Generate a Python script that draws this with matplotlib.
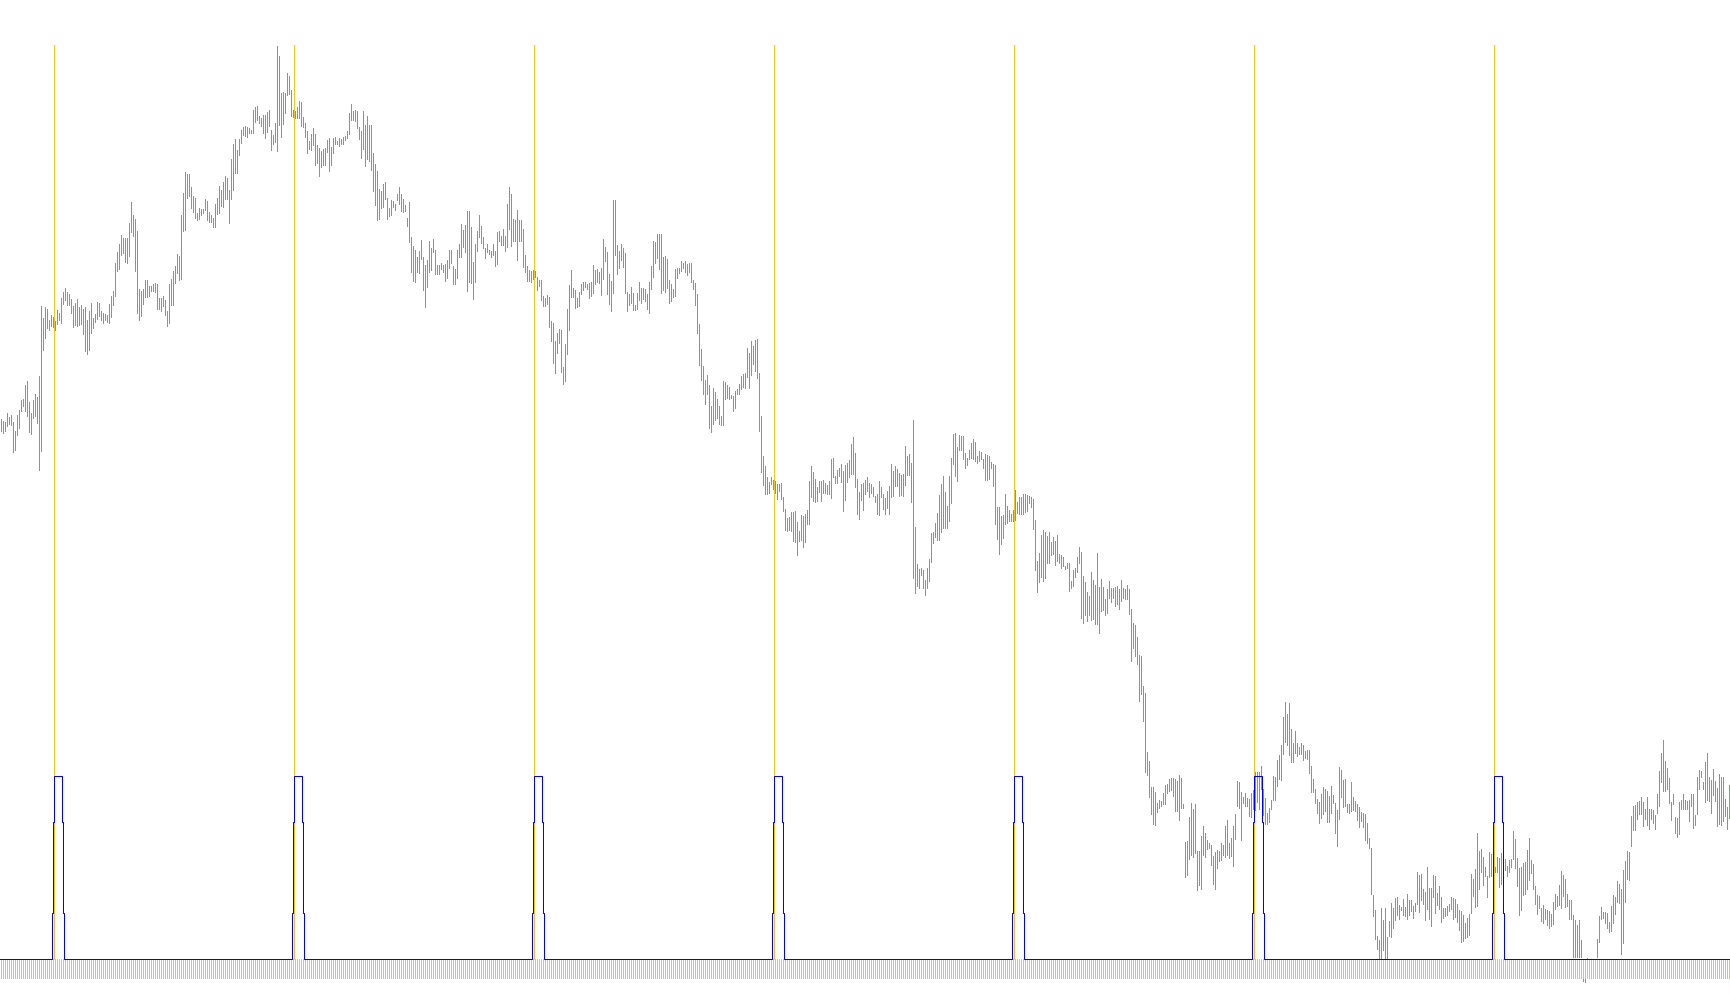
import numpy as np
import matplotlib
matplotlib.use("Agg")
import matplotlib.pyplot as plt

# price bars, one high / low per bar (price points)
highs = [
    581, 579, 578, 587, 583, 585, 578, 569, 585, 590,
    600, 601, 615, 619, 598, 587, 600, 606, 603, 624,
    694, 682, 693, 691, 680, 685, 683, 679, 690, 687,
    702, 708, 712, 708, 706, 701, 694, 697, 701, 693,
    695, 691, 693, 680, 689, 697, 682, 686, 698, 697,
    689, 687, 686, 685, 696, 704, 709, 737, 748, 756,
    765, 762, 762, 762, 777, 798, 785, 781, 769, 711,
    709, 711, 720, 720, 714, 714, 716, 717, 716, 702,
    702, 704, 700, 689, 716, 721, 729, 734, 746, 744,
    785, 807, 828, 826, 826, 813, 804, 802, 787, 792,
    791, 791, 801, 799, 788, 785, 782, 796, 802, 814,
    810, 818, 824, 822, 810, 841, 856, 861, 850, 861,
    870, 873, 874, 873, 872, 870, 890, 893, 894, 884,
    882, 885, 885, 888, 890, 870, 865, 877, 954, 944,
    907, 908, 907, 927, 924,
    910, 890, 889, 893, 899,
    898, 883, 877, 869, 859, 866, 872, 866, 855, 852,
    849, 851, 852, 860, 862, 853, 862, 863, 859, 862,
    861, 863, 864, 869, 887, 896, 889, 890, 889, 873,
    869, 889, 875, 884, 875, 875, 847, 836, 829, 811,
    809, 816, 818, 802, 792, 800, 799, 796, 806, 813,
    806, 801, 795, 782, 798, 763, 754, 750, 743, 749,
    760, 743, 735, 740, 759, 752, 761, 750, 735, 735,
    737, 735, 736, 740, 750, 750, 734, 731, 750, 756,
    776, 770, 775, 789, 789, 773, 738, 756, 769, 785,
    774, 763, 752, 756, 750, 749, 756, 749, 768, 769,
    764, 771, 764, 796, 813, 806, 781, 780, 790, 780,
    780, 771, 745, 734, 730, 729, 730, 729, 723, 720,
    720, 704, 702, 705, 703, 679, 677, 659, 667, 671,
    670, 633, 656, 691, 715, 730, 712, 710, 702, 708,
    716, 718, 718, 716, 717, 718, 735, 730, 731, 728,
    732, 761, 753, 748, 726, 719, 800, 800, 755, 749,
    756, 752, 747, 708, 706, 713, 707, 695, 707, 718,
    712, 712, 711, 706, 718, 734, 759, 758, 766, 766,
    766, 743, 744, 741, 720, 716, 711, 731, 732, 732,
    739, 737, 739, 736, 737, 737, 720, 717, 706, 676,
    651, 634, 620, 625, 615, 594, 612, 608, 601, 594,
    584, 619, 618, 615, 613, 605, 604, 609, 611, 616,
    624, 626, 627, 652, 647, 659, 654, 660, 661, 627,
    584, 544, 534, 523, 518, 523, 520, 519, 516, 516,
    517, 503, 491, 482, 483, 488, 488, 489, 478, 469,
    485, 484, 486, 490, 519, 534, 528, 521, 513, 519,
    519, 520, 517, 515, 519, 541, 542, 524, 530, 532,
    536, 529, 535, 537, 540, 556, 563, 547, 521, 508,
    516, 517, 520, 523, 517,
    516, 513, 504, 506, 519,
    513, 506, 502, 509, 514, 536, 529, 534, 531, 527,
    525, 526, 554, 544, 546, 537, 580, 473, 436, 431,
    432, 430, 420, 432, 441, 467, 468, 477, 487, 505,
    516, 524, 508, 494, 524, 542, 566, 567, 553, 565,
    564, 564, 547, 542, 550, 557, 561, 558, 544, 549,
    548, 541, 546, 545, 544, 538, 536, 535, 493, 493,
    484, 485, 506, 494, 490, 486, 490, 510, 498, 503,
    503, 506, 506, 505, 504, 503, 501, 480, 439, 447,
    465, 470, 468, 464, 468, 458, 463, 459, 465, 446,
    445, 443, 434, 437, 437, 419, 430, 432, 443, 453,
    448, 424, 418, 408, 404, 428, 420, 415, 447, 413,
    421, 413, 401, 411, 419, 412, 412, 413, 414, 411,
    420, 412, 411, 415, 411, 391, 377, 375, 363, 345,
    344, 314, 307, 248, 239, 213, 213, 208, 197, 200,
    199, 207, 215, 216, 221, 222, 222, 221, 219, 225,
    222, 196, 158, 159, 183, 197, 191, 196, 149, 149,
    164, 174, 167, 160, 157, 155, 144, 148, 150, 149,
    157, 155, 174, 180, 157, 162, 174, 186, 219, 218,
    208, 203, 207, 202, 201, 207, 210, 228, 228, 228,
    234, 211, 202, 187, 192, 200, 224, 223, 240, 245,
    255, 283, 298, 286, 297, 271, 257, 269, 257, 253,
    257, 255, 249, 250, 250, 234, 221, 211, 201, 198,
    206, 213, 211, 209, 204, 214, 205, 197, 190, 233,
    230, 220, 221, 196, 196, 218, 203, 199, 196, 193,
    188, 187, 186, 177, 162, 152, 105, 90, 64, 60,
    92, 80, 92, 63, 79, 97, 92, 102, 103, 95,
    93, 101, 93, 106, 100, 100, 94, 97, 128, 125,
    126, 111, 108, 133, 112, 112, 125, 124, 107, 114,
    103, 92, 92, 94, 96,
    103, 102, 101, 96, 90,
    89, 85, 77, 82, 86, 126, 121, 131, 167, 149,
    151, 143, 133, 124, 148, 146, 140, 133, 143, 142,
    147, 142, 141, 134, 140, 141, 169, 161, 142, 132,
    133, 137, 138, 150, 162, 140, 136, 114, 105, 104,
    92, 95, 91, 90, 89, 86, 98, 106, 104, 115,
    129, 125, 121, 106, 100, 100, 85, 80, 75, 80,
    60, 40, 38, 42, 40, 40, 40, 41, 61, 84,
    93, 88, 88, 87, 78, 94, 105, 103, 119, 116,
    111, 130, 139, 149, 148, 184, 194, 195, 198, 199,
    203, 198, 191, 203, 191, 191, 190, 185, 206, 229,
    247, 260, 239, 232, 222, 198, 206, 183, 182, 198,
    200, 206, 200, 199, 200, 206, 206, 185, 223, 230,
    229, 218, 238, 247, 223, 220, 231, 219, 212, 226,
    223, 223, 201, 193, 215,
]

lows = [
    568, 566, 568, 573, 575, 574, 547, 549, 564, 571,
    588, 593, 588, 583, 567, 565, 581, 583, 576, 529,
    548, 649, 661, 671, 669, 673, 672, 669, 675, 679,
    676, 695, 699, 694, 694, 686, 672, 674, 673, 674,
    675, 665, 648, 645, 649, 666, 671, 677, 680, 683,
    679, 676, 679, 677, 676, 682, 694, 703, 728, 730,
    744, 746, 737, 736, 743, 767, 763, 728, 686, 679,
    683, 695, 702, 702, 703, 708, 708, 707, 690, 690,
    688, 693, 684, 673, 676, 694, 694, 716, 726, 719,
    720, 768, 769, 801, 803, 791, 787, 781, 779, 780,
    784, 786, 789, 779, 777, 777, 772, 772, 785, 786,
    793, 792, 800, 800, 776, 800, 809, 826, 826, 844,
    856, 864, 863, 862, 866, 866, 866, 877, 879, 876,
    873, 866, 861, 867, 873, 849, 855, 857, 848, 874,
    862, 875, 886, 904, 905,
    883, 882, 881, 881, 881,
    873, 872, 862, 846, 850, 849, 854, 834, 836, 823,
    832, 834, 834, 847, 828, 834, 846, 855, 855, 853,
    855, 855, 859, 861, 865, 879, 879, 878, 871, 860,
    841, 850, 833, 840, 838, 829, 808, 794, 779, 780,
    791, 792, 800, 780, 783, 784, 792, 789, 799, 795,
    788, 787, 788, 773, 757, 727, 718, 717, 727, 726,
    740, 709, 692, 712, 727, 729, 747, 725, 725, 725,
    730, 727, 718, 721, 731, 736, 715, 715, 721, 742,
    742, 752, 747, 708, 717, 716, 700, 717, 748, 762,
    756, 751, 741, 747, 745, 742, 744, 733, 735, 758,
    754, 754, 748, 752, 770, 753, 758, 758, 739, 758,
    758, 732, 727, 718, 718, 717, 720, 722, 709, 713,
    699, 693, 693, 695, 672, 658, 636, 626, 646, 656,
    627, 615, 618, 645, 669, 702, 702, 691, 692, 693,
    705, 709, 712, 710, 701, 703, 706, 715, 717, 716,
    704, 720, 738, 705, 695, 688, 706, 744, 725, 731,
    739, 732, 706, 688, 694, 696, 689, 689, 690, 699,
    696, 700, 698, 690, 686, 710, 722, 736, 741, 730,
    706, 709, 707, 711, 696, 698, 702, 703, 721, 726,
    728, 731, 727, 724, 727, 717, 710, 694, 666, 634,
    619, 605, 595, 605, 571, 567, 575, 579, 581, 575,
    574, 574, 600, 601, 600, 601, 588, 591, 605, 605,
    610, 612, 611, 622, 611, 624, 635, 628, 621, 568,
    527, 514, 505, 505, 506, 515, 510, 506, 500, 508,
    500, 488, 469, 468, 469, 468, 458, 457, 444, 458,
    459, 452, 457, 475, 475, 502, 498, 497, 498, 507,
    498, 506, 506, 505, 505, 501, 522, 516, 516, 523,
    517, 488, 499, 517, 522, 525, 525, 512, 485, 480,
    499, 489, 505, 508, 502,
    506, 503, 497, 485, 484,
    502, 490, 485, 491, 485, 502, 503, 513, 513, 503,
    504, 503, 514, 524, 524, 497, 421, 406, 413, 411,
    424, 411, 404, 411, 418, 437, 456, 462, 459, 459,
    467, 471, 471, 471, 478, 496, 535, 523, 518, 549,
    549, 540, 531, 534, 540, 541, 540, 538, 536, 538,
    540, 531, 519, 519, 520, 531, 513, 475, 460, 445,
    455, 461, 475, 476, 478, 478, 478, 479, 486, 485,
    485, 485, 487, 488, 496, 492, 470, 429, 407, 417,
    422, 418, 421, 436, 436, 444, 445, 434, 438, 436,
    431, 433, 430, 431, 408, 411, 413, 422, 427, 436,
    381, 376, 384, 378, 384, 379, 380, 375, 375, 366,
    388, 389, 384, 386, 401, 397, 401, 393, 395, 390,
    398, 401, 400, 400, 385, 338, 351, 343, 335, 298,
    305, 278, 227, 224, 202, 185, 175, 174, 187, 191,
    193, 195, 195, 206, 208, 209, 203, 188, 188, 179,
    191, 191, 122, 124, 140, 144, 142, 146, 109, 114,
    110, 144, 142, 150, 151, 134, 115, 110, 131, 138,
    139, 144, 142, 144, 141, 143, 133, 160, 193, 191,
    159, 196, 193, 193, 183, 182, 190, 189, 197, 190,
    210, 184, 175, 175, 177, 190, 199, 199, 213, 220,
    219, 245, 257, 254, 244, 237, 237, 246, 243, 245,
    245, 239, 241, 240, 226, 207, 207, 196, 186, 176,
    181, 185, 188, 177, 177, 186, 196, 166, 153, 180,
    202, 192, 193, 187, 186, 188, 189, 188, 179, 172,
    178, 172, 159, 156, 151, 105, 83, 60, 50, 41,
    41, 49, 41, 41, 63, 62, 71, 79, 84, 80,
    89, 84, 83, 80, 84, 88, 81, 88, 95, 87,
    99, 95, 79, 90, 80, 73, 102, 86, 94, 90,
    77, 81, 83, 84, 88,
    90, 80, 82, 77, 69,
    57, 58, 61, 62, 64, 86, 103, 92, 93, 110,
    127, 114, 123, 102, 122, 123, 123, 127, 127, 112,
    115, 133, 129, 123, 127, 132, 140, 131, 113, 84,
    89, 104, 105, 110, 119, 126, 110, 95, 85, 91,
    78, 76, 80, 74, 71, 73, 75, 90, 93, 94,
    91, 103, 92, 93, 80, 80, 42, 42, 42, 42,
    42, 18, 17, 40, 35, 35, 36, 37, 42, 57,
    80, 81, 76, 71, 67, 68, 76, 85, 97, 96,
    45, 56, 97, 120, 119, 153, 169, 169, 180, 185,
    185, 173, 180, 174, 170, 180, 176, 170, 186, 193,
    217, 208, 208, 210, 196, 179, 195, 166, 162, 165,
    190, 190, 190, 190, 178, 193, 171, 174, 185, 210,
    222, 210, 197, 199, 198, 186, 204, 198, 173, 175,
    174, 178, 183, 170, 181,
]

# bars where the period marker fires
signal_bars = [26, 146, 266, 386, 506, 626, 746]
# indicator staircase around each signal (bar offset, level)
pulse_offsets = [-1, -0.5, 0, 4, 4.5, 5]
pulse_levels = [0.25, 0.75, 1.0, 0.75, 0.25, 0.0]
# constant histogram under the zero line
hist_value = -0.11

GREEN = "#1EE01E"
GOLD = "#F2C81E"
BLUE = "#0000FF"

n = min(len(highs), len(lows))
idx = np.arange(n)
highs = np.array(highs[:n])
lows = np.array(lows[:n])

fig = plt.figure(figsize=(17.3, 10.05), dpi=100)
fig.patch.set_facecolor("white")

# price window: each bar is one pixel column, every other column
ax = fig.add_axes([0, 0, 1, 1])
ax.set_xlim(-0.75, n - 0.75)
ax.set_ylim(-5, 1000)
ax.axis("off")
ax.bar(idx, highs - lows, bottom=lows, width=0.5, color=GREEN,
       linewidth=0, antialiased=False, zorder=1)
for b in signal_bars:
    ax.axvline(b, ymin=0.0458, ymax=0.9552, color=GOLD, lw=0.72, zorder=2)

# indicator window on top
ax2 = fig.add_axes([0, 0, 1, 1], sharex=ax)
ax2.patch.set_visible(False)
ax2.axis("off")
ax2.set_ylim(-0.2514, 5.2404)
ax2.bar(idx, np.full(n, hist_value), width=0.5, color=GOLD,
        linewidth=0, antialiased=False, zorder=1)

xs = [-0.75]
ys = [0.0]
for b in signal_bars:
    for off, lev in zip(pulse_offsets, pulse_levels):
        xs.append(b + off)
        ys.append(lev)
xs.append(n - 0.75)
ys.append(0.0)
ax2.plot(xs, ys, drawstyle="steps-post", color=BLUE, lw=0.72, zorder=3)

fig.savefig("out.png", dpi=100, facecolor="white")
